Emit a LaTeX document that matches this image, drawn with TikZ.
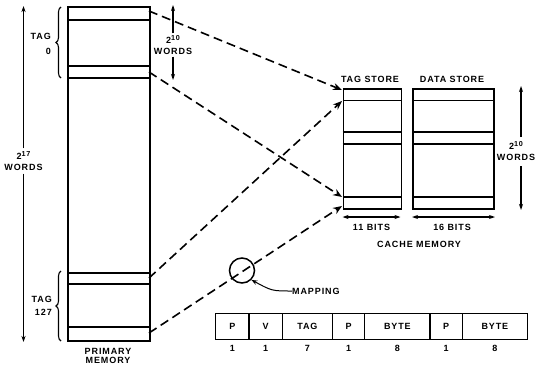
\documentclass[tikz,border=0pt]{standalone}
\usepackage{fontspec}
\newfontfamily\lblfont[LetterSpace=10]{Liberation Sans}
\usetikzlibrary{arrows.meta,decorations.pathreplacing}
\newcommand{\supnum}[1]{\raisebox{3.2pt}{\fontsize{7.2}{8}\selectfont #1}}
\begin{document}
\begin{tikzpicture}[x=1pt,y=1pt,
  lbl/.style={font=\lblfont\bfseries\fontsize{9}{10.5}\selectfont, inner sep=0pt, align=center},
  box/.style={draw, line width=1.9pt, inner sep=0pt, anchor=north west},
  strip/.style={line width=1.4pt},
  dashln/.style={line width=1.6pt, dash pattern=on 9pt off 5pt, -{Stealth[length=9pt,width=7pt]}},
  dim/.style={line width=1.2pt, -{Stealth[length=6pt,width=4pt]}},
  ddim/.style={line width=1.2pt, {Stealth[length=6pt,width=4pt]}-{Stealth[length=6pt,width=4pt]}},
  brc/.style={line width=1.1pt, decorate, decoration={brace, amplitude=5pt}},
  cell/.style={draw, line width=1.4pt, minimum height=26pt, inner sep=0pt, anchor=north west, font=\lblfont\bfseries\fontsize{9}{10.5}\selectfont},
  num/.style={lbl}
]
\useasboundingbox (0,0) rectangle (537,-367);

% primary memory
\node[box, minimum width=82pt, minimum height=334pt] (pm) at (67,-6) {};
\foreach \yy in {20,66,78,273,284,327} \draw[strip] (67,-\yy) -- (149,-\yy);
\node[lbl] (pmlbl) at (108,-356) {PRIMARY\\[-1pt]MEMORY};

% braces
\draw[brc] (61,-78) -- (61,-7);
\node[lbl, anchor=east] (tag0a) at (51,-36.5) {TAG};
\node[lbl, anchor=east] (tag0b) at (51,-51.5) {0};
\draw[brc] (61,-341) -- (61,-271);
\node[lbl, anchor=east] (tag127a) at (52,-299) {TAG};
\node[lbl, anchor=east] (tag127b) at (52,-312.5) {127};

% 2^17 words
\node[lbl] (w17) at (23.5,-161) {2\supnum{17}\\[0pt]WORDS};
\coordinate (w17t) at (23.5,-6);
\coordinate (w17b) at (23.5,-342);
\draw[dim] (w17.north) ++(0,3) -- (w17t);
\draw[dim] (w17.south) ++(0,-3) -- (w17b);

% 2^10 words (top)
\node[lbl] (w10) at (173,-45) {2\supnum{10}\\[0pt]WORDS};
\coordinate (w10t) at (173,-5);
\coordinate (w10b) at (173,-80);
\draw[dim] (w10.north) ++(0,2) -- (w10t);
\draw[dim] (w10.south) ++(0,-2) -- (w10b);

% cache
\node[box, minimum width=58pt, minimum height=120pt] (ts) at (342.5,-88) {};
\node[box, minimum width=81pt, minimum height=120pt] (ds) at (412,-88) {};
\foreach \yy in {100.7,132,144,197} {
  \draw[strip] (342.5,-\yy) -- (400.5,-\yy);
  \draw[strip] (412,-\yy) -- (493,-\yy);
}
\node[lbl] (tslbl) at (370,-79) {TAG STORE};
\node[lbl] (dslbl) at (452,-79) {DATA STORE};

% 2^10 words (right)
\node[lbl] (w10r) at (516,-151) {2\supnum{10}\\[0pt]WORDS};
\coordinate (w10rt) at (521,-86);
\coordinate (w10rb) at (521,-210);
\draw[dim] (521,-137) -- (w10rt);
\draw[dim] (521,-166) -- (w10rb);

% bit widths
\coordinate (b11l) at (342.5,-217);
\coordinate (b11r) at (400.5,-217);
\coordinate (b16l) at (412,-217);
\coordinate (b16r) at (495,-217);
\draw[ddim] (b11l) -- (b11r);
\draw[ddim] (b16l) -- (b16r);
\node[lbl] (b11) at (371.5,-227) {11 BITS};
\node[lbl] (b16) at (452,-227) {16 BITS};
\node[lbl] (cm) at (419,-244) {CACHE MEMORY};

% dashed mapping connectors
\coordinate (pA) at (149,-11);
\coordinate (pB) at (149,-72);
\coordinate (pC) at (149,-278);
\coordinate (pD) at (149,-333);
\coordinate (tA) at (342,-90);
\coordinate (tC) at (342,-101);
\coordinate (tB) at (342,-197);
\coordinate (tD) at (342,-206);
\draw[dashln] (pA) -- (tA);
\draw[dashln] (pB) -- (tB);
\draw[dashln] (pC) -- (tC);
\draw[dashln] (pD) -- (tD);

% mapping circle
\node[draw, circle, line width=1.5pt, minimum size=25pt, inner sep=0pt] (circ) at (242,-270.5) {};
\node[lbl, anchor=west] (map) at (292,-291) {MAPPING};
\draw[line width=1pt, -{Stealth[length=6pt,width=4.5pt]}] (map.west) .. controls (272,-291) .. (circ.-45);

% field format
\node[cell, minimum width=33.3pt] (f1) at (215,-313) {P};
\node[cell, minimum width=33.4pt] (f2) at (248.3,-313) {V};
\node[cell, minimum width=50pt] (f3) at (281.7,-313) {TAG};
\node[cell, minimum width=32.3pt] (f4) at (331.7,-313) {P};
\node[cell, minimum width=65.3pt] (f5) at (364,-313) {BYTE};
\node[cell, minimum width=32.4pt] (f6) at (429.3,-313) {P};
\node[cell, minimum width=65pt] (f7) at (461.7,-313) {BYTE};
\foreach \c/\n in {f1/1,f2/1,f3/7,f4/1,f5/8,f6/1,f7/8}
  \node[num, anchor=north] (n\c) at ([yshift=-5pt]\c.south) {\n};
\end{tikzpicture}
\end{document}
